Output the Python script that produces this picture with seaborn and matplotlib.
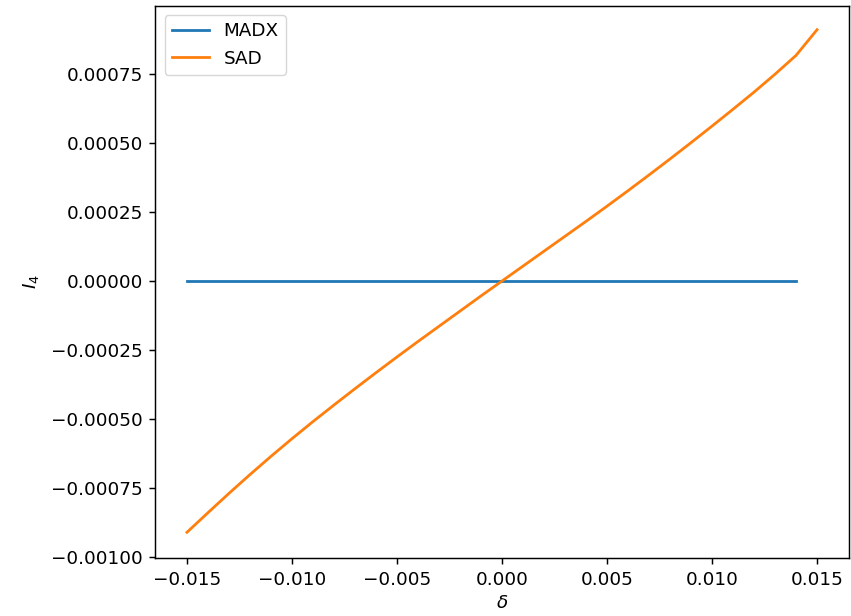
import numpy as np
import pandas as pd
import matplotlib
matplotlib.use("Agg")
import matplotlib.pyplot as plt
import seaborn as sns

# Momentum deviation grid for each code
delta_madx = [-0.015, -0.014, -0.013, -0.012, -0.011, -0.010, -0.009, -0.008,
              -0.007, -0.006, -0.005, -0.004, -0.003, -0.002, -0.001, 0.000,
              0.001, 0.002, 0.003, 0.004, 0.005, 0.006, 0.007, 0.008,
              0.009, 0.010, 0.011, 0.012, 0.013, 0.014]
i4_madx = [0.0] * 30

delta_sad = [-0.015, -0.014, -0.013, -0.012, -0.011, -0.010, -0.009, -0.008,
             -0.007, -0.006, -0.005, -0.004, -0.003, -0.002, -0.001, 0.000,
             0.001, 0.002, 0.003, 0.004, 0.005, 0.006, 0.007, 0.008,
             0.009, 0.010, 0.011, 0.012, 0.013, 0.014, 0.015]
i4_sad = [-0.000910, -0.000839, -0.000769, -0.000701, -0.000635, -0.000571,
          -0.000509, -0.000449, -0.000390, -0.000332, -0.000275, -0.000219,
          -0.000164, -0.000109, -0.000054, 0.000000, 0.000054, 0.000108,
          0.000162, 0.000216, 0.000271, 0.000327, 0.000384, 0.000442,
          0.000501, 0.000561, 0.000622, 0.000684, 0.000749, 0.000817,
          0.000910]

codes = ["MADX", "SAD"]

df = pd.concat([
    pd.DataFrame({"delta": delta_madx, "I4": i4_madx, "code": codes[0]}),
    pd.DataFrame({"delta": delta_sad, "I4": i4_sad, "code": codes[1]}),
], ignore_index=True)

plt.rcParams.update({
    "font.family": ["DejaVu Sans"],
    "font.size": 13.2,
    "axes.linewidth": 1.05,
    "xtick.major.size": 4.6,
    "ytick.major.size": 4.6,
    "xtick.major.width": 1.05,
    "ytick.major.width": 1.05,
    "xtick.major.pad": 4.6,
    "ytick.major.pad": 4.6,
})

fig = plt.figure(figsize=(8.51, 6.16), dpi=100)
ax = fig.add_axes([0.1827, 0.0942, 0.9971 - 0.1827, 0.9903 - 0.0942])

palette = dict(zip(codes, sns.color_palette("tab10", 2)))
sns.lineplot(data=df, x="delta", y="I4", hue="code", hue_order=codes,
             palette=palette, linewidth=2.0, ax=ax, sort=False)

ax.set_xlabel(r"$\delta$")
ax.set_ylabel(r"$I_4$", labelpad=7)
ax.set_xticks([-0.015, -0.010, -0.005, 0.000, 0.005, 0.010, 0.015])
ax.set_ylim(-0.001003, 0.000996)
ax.legend(title=None, loc="upper left")

fig.savefig("out.png", dpi=100)
